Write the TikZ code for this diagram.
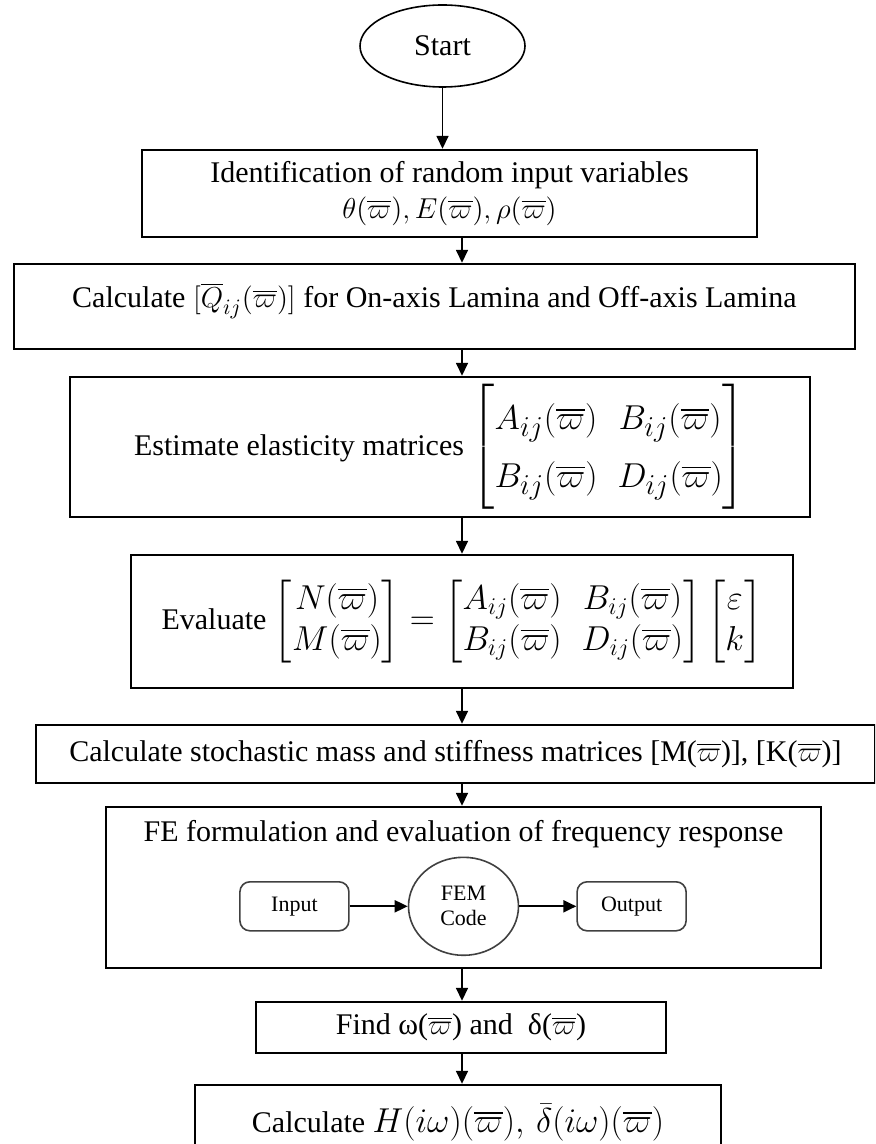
\documentclass[tikz,border=0pt]{standalone}
\usepackage{amsmath}
\usepackage{fontspec}
\setmainfont{Liberation Serif}
\usepackage{tikz}
\usetikzlibrary{arrows.meta, positioning, shapes.geometric}

\newcommand{\wb}{\overline{\varpi}}
\newcommand{\bigmath}{\fontsize{19}{23}\selectfont}
\newcommand{\midmath}{\fontsize{17.5}{20.5}\selectfont}

\begin{document}
\begin{tikzpicture}[
  x=0.5pt, y=-0.5pt,
  font=\fontsize{15}{18}\selectfont,
  box/.style   ={draw, line width=1pt, align=center, inner sep=3pt},
  term/.style  ={ellipse, draw, line width=0.8pt, inner sep=2pt},
  port/.style  ={draw, rounded corners=5pt, line width=0.8pt, black!75,
                 text=black, minimum width=54.5pt, minimum height=24.5pt,
                 font=\fontsize{11}{12.5}\selectfont},
  hub/.style   ={ellipse, draw, line width=0.8pt, black!75, text=black,
                 minimum width=55pt, minimum height=49pt, inner sep=0pt,
                 align=center, font=\fontsize{11}{12.5}\selectfont},
  arr/.style   ={-{Triangle[length=6.5pt,width=6pt]}, line width=0.8pt},
  sarr/.style  ={-{Triangle[length=6.5pt,width=6pt]}, line width=1pt},
]

\useasboundingbox (0,0) rectangle (875,1144);
\clip (0,0) rectangle (875,1144);

% ================= start + input variables =================
\node[term, minimum width=82.5pt, minimum height=41pt] (start) at (442.5,46) {Start};

\node[box, minimum width=307.5pt, minimum height=43.5pt,
      below=30.5pt of start.south, xshift=3.5pt] (ident)
  {Identification of random input variables\\
   $\theta(\wb),E(\wb),\rho(\wb)$};

\coordinate (spine) at (462,0);

% ================= lamina stiffness + laminate matrices =================
\node[box, minimum width=420.5pt, minimum height=42.5pt,
      text height=10pt, text depth=8.5pt,
      below=12.5pt of ident.south, xshift=-7.5pt] (qbar)
  {Calculate $[\overline{Q}_{ij}(\wb)]$ for On-axis Lamina and Off-axis Lamina};

\node[box, minimum width=370pt, minimum height=70pt,
      below=13pt of qbar.south, xshift=2.75pt] (elast)
  {Estimate elasticity matrices
   {\bigmath\renewcommand{\arraystretch}{1.25}%
    $\begin{bmatrix} A_{ij}(\wb) & B_{ij}(\wb)\\ B_{ij}(\wb) & D_{ij}(\wb)\end{bmatrix}$}};

\node[box, minimum width=331pt, minimum height=66.5pt,
      below=18pt of elast.south, xshift=11pt] (eval)
  {Evaluate
   {\midmath$\begin{bmatrix} N(\wb)\\ M(\wb)\end{bmatrix}
   =\begin{bmatrix} A_{ij}(\wb) & B_{ij}(\wb)\\ B_{ij}(\wb) & D_{ij}(\wb)\end{bmatrix}
   \begin{bmatrix} \varepsilon\\ k\end{bmatrix}$}};

\node[box, minimum width=419.5pt, minimum height=29pt,
      below=17.5pt of eval.south, xshift=-3.25pt] (stoch)
  {Calculate stochastic mass and stiffness matrices [M($\wb$)], [K($\wb$)]};

% ================= FE block with its inner chain =================
\node[box, minimum width=357.5pt, minimum height=80.5pt,
      below=11pt of stoch.south, xshift=4pt] (fe) {};
\node[below=4pt of fe.north] (fetitle)
  {FE formulation and evaluation of frequency response};

\node[hub, yshift=-9.5pt] (fem) at (fe.center) {FEM\\Code};
\node[port, left=29pt of fem] (inp) {Input};
\node[port, right=28.5pt of fem] (outp) {Output};

\draw[sarr] (inp) -- (fem);
\draw[sarr] (fem) -- (outp);

% ================= results =================
\node[box, minimum width=205pt, minimum height=25.5pt,
      below=16pt of fe.south, xshift=-1.25pt] (find)
  {Find ω($\wb$) and \ δ($\wb$)};

\node[box, minimum width=263pt, minimum height=38pt,
      below=15pt of find.south, xshift=-1.5pt] (resp)
  {Calculate {\bigmath$H(i\omega)(\wb),\,\bar{\delta}(i\omega)(\wb)$}};

% connectors down the spine
\draw[arr] (start) -- (start.south |- ident.north);
\foreach \a/\b in {ident/qbar, qbar/elast, elast/eval, eval/stoch,
                   stoch/fe, fe/find, find/resp}{
  \draw[arr] (\a.south -| spine) -- (\b.north -| spine);}

\end{tikzpicture}
\end{document}
